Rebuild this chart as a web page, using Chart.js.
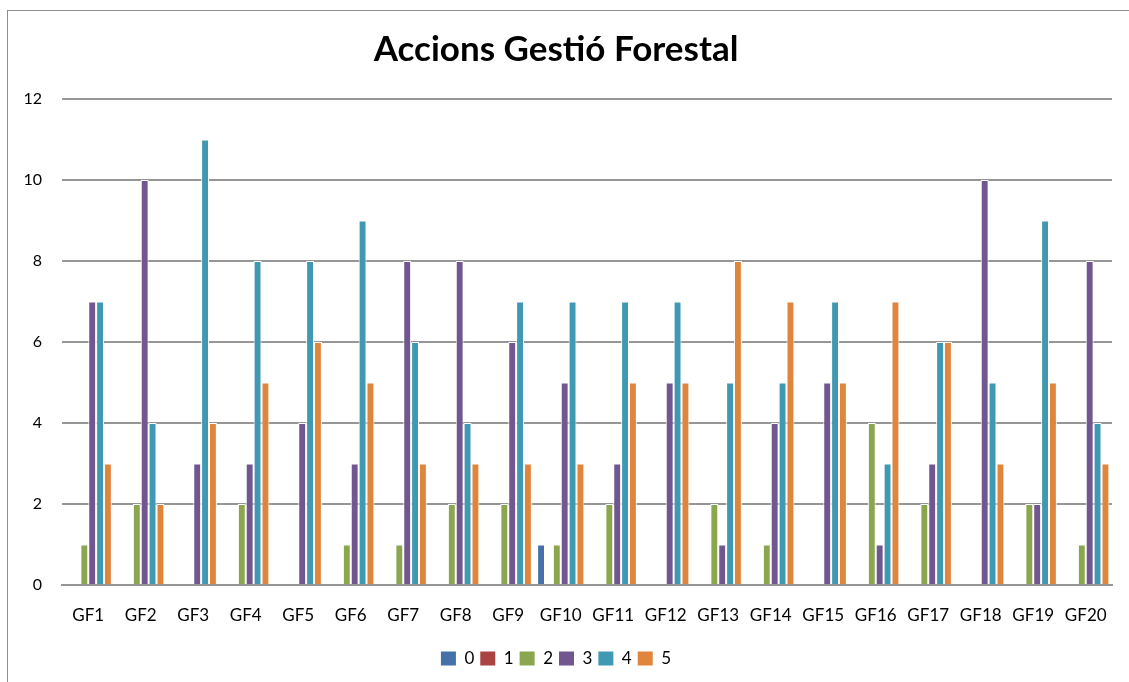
<!DOCTYPE html>
<html>
<head>
<meta charset="utf-8">
<script src="https://cdn.jsdelivr.net/npm/chart.js@4/dist/chart.umd.min.js"></script>
<style>
  html, body { margin: 0; padding: 0; background: #fff; }
  #wrap { position: relative; width: 1129px; height: 682px; overflow: hidden; }
  #frame { position: absolute; left: 7px; top: 10px; width: 1200px; height: 800px;
           border-left: 1px solid #8e8e8e; border-top: 1px solid #8e8e8e; }
  canvas { position: absolute; left: 0; top: 0; }
</style>
</head>
<body>
<div id="wrap">
  <div id="frame"></div>
  <canvas id="chart" width="1129" height="682"></canvas>
</div>
<script>
// categories
const categories = ['GF1','GF2','GF3','GF4','GF5','GF6','GF7','GF8','GF9','GF10',
                    'GF11','GF12','GF13','GF14','GF15','GF16','GF17','GF18','GF19','GF20']

// one array per answer level (0..5)
const level0 = [0,0,0,0,0,0,0,0,0,1,0,0,0,0,0,0,0,0,0,0]
const level1 = [0,0,0,0,0,0,0,0,0,0,0,0,0,0,0,0,0,0,0,0]
const level2 = [1,2,0,2,0,1,1,2,2,1,2,0,2,1,0,4,2,0,2,1]
const level3 = [7,10,3,3,4,3,8,8,6,5,3,5,1,4,5,1,3,10,2,8]
const level4 = [7,4,11,8,8,9,6,4,7,7,7,7,5,5,7,3,6,5,9,4]
const level5 = [3,2,4,5,6,5,3,3,3,3,5,5,8,7,5,7,6,3,5,3]

const seriesNames = ['0','1','2','3','4','5']
const yTicks = [0,2,4,6,8,10,12]

const colors = ['#4471a8','#a94442','#8aa64e','#71568f','#4099b2','#e0853c']

let DATA = {
    type: 'bar',
    data: {
        labels: categories,
        datasets: [level0, level1, level2, level3, level4, level5].map((d, i) => ({
            label: seriesNames[i],
            data: d,
            backgroundColor: colors[i],
            borderColor: '#ffffff',
            borderWidth: 1,
            borderSkipped: 'bottom',
            categoryPercentage: 0.9,
            barPercentage: 1.0
        }))
    },
    options: {
        responsive: false,
        animation: false,
        layout: { padding: { left: 0, right: 17, top: 18, bottom: 5 } },
        plugins: {
            title: {
                display: true,
                text: 'Accions Gestió Forestal',
                color: '#000',
                font: { family: 'Lato', size: 35, weight: 'bold' },
                padding: { top: 11, bottom: 28 }
            },
            legend: {
                position: 'bottom',
                labels: {
                    color: '#000',
                    font: { family: 'Lato', size: 17 },
                    boxWidth: 15,
                    boxHeight: 14,
                    padding: 6,
                    generateLabels: chart => chart.data.datasets.map((ds, i) => ({
                        text: ds.label,
                        fillStyle: ds.backgroundColor,
                        strokeStyle: ds.backgroundColor,
                        lineWidth: 0,
                        datasetIndex: i
                    }))
                }
            },
            tooltip: { enabled: false }
        },
        scales: {
            x: {
                afterFit: axis => { axis.height = 59 },
                grid: { display: false },
                border: { display: true, color: '#969696', width: 2 },
                ticks: { color: '#000', font: { family: 'Lato', size: 17 }, padding: 12, maxRotation: 0 }
            },
            y: {
                min: 0,
                max: 12,
                afterBuildTicks: axis => { axis.ticks = yTicks.map(v => ({ value: v })) },
                afterFit: axis => { axis.width = 62 },
                grid: { color: '#969696', lineWidth: 2, drawTicks: false },
                border: { display: false },
                ticks: { color: '#000', font: { family: 'Lato', size: 16 }, padding: 20 }
            }
        }
    }
}

new Chart(document.getElementById('chart'), DATA)
</script>
</body>
</html>
